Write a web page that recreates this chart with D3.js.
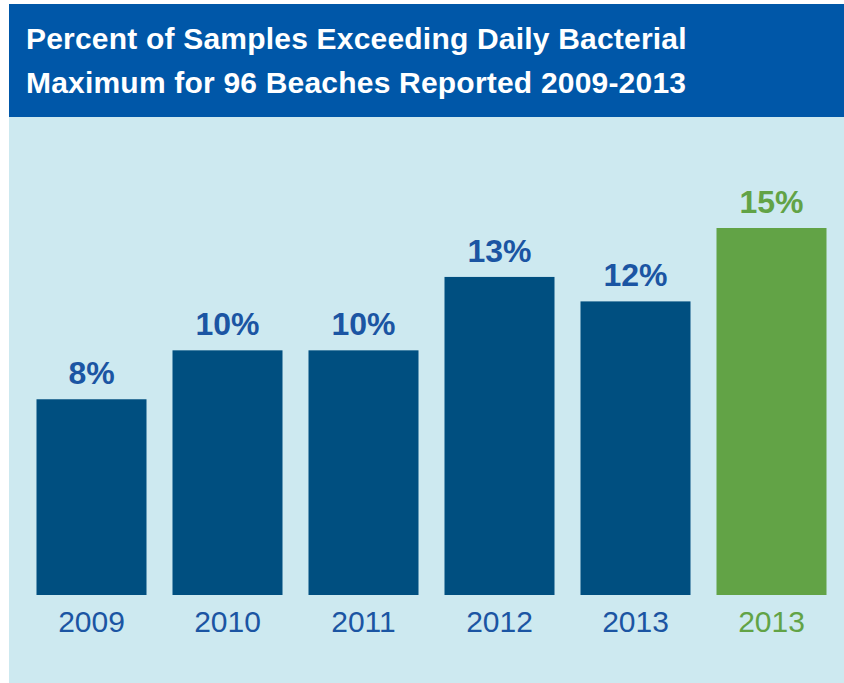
<!DOCTYPE html>
<html>
<head>
<meta charset="utf-8">
<script src="https://cdn.jsdelivr.net/npm/d3@7"></script>
<style>
  html, body { margin: 0; padding: 0; background: #ffffff; }
  svg { display: block; }
</style>
</head>
<body>
<svg id="chart" width="844" height="683"></svg>
<script>
const titleLines = ["Percent of Samples Exceeding Daily Bacterial", "Maximum for 96 Beaches Reported 2009-2013"];
const categories = ["2009", "2010", "2011", "2012", "2013", "2013 "];
const labels = ["2009", "2010", "2011", "2012", "2013", "2013"];
const values = [8, 10, 10, 13, 12, 15];
const highlight = [false, false, false, false, false, true];

const W = 844, H = 683;
const svg = d3.select("#chart");

const banner = { x: 9, y: 4, h: 113 };
const panelBottom = H;

svg.append("rect").attr("x", banner.x).attr("y", banner.y + banner.h)
  .attr("width", W - banner.x).attr("height", panelBottom - banner.y - banner.h)
  .attr("fill", "#cde9f0");
svg.append("rect").attr("x", banner.x).attr("y", banner.y)
  .attr("width", W - banner.x).attr("height", banner.h)
  .attr("fill", "#0057a8");

svg.append("g").selectAll("text").data(titleLines).join("text")
  .attr("x", 26).attr("y", (d, i) => 49 + i * 44)
  .attr("fill", "#ffffff")
  .attr("font-family", "Liberation Sans, Arial, Helvetica, sans-serif")
  .attr("font-weight", "bold").attr("font-size", 30)
  .attr("letter-spacing", 0.2)
  .text(d => d);

const baseline = 595;
const x = d3.scaleBand().domain(categories).range([36.5, 826.5]).paddingInner(26 / 136).paddingOuter(0);
const y = d3.scaleLinear().domain([0, 15]).range([baseline, 228]);

const blue = "#004f80", green = "#62a346", textBlue = "#1b55a3";

const g = svg.append("g");
g.selectAll("rect.bar").data(values).join("rect")
  .attr("class", "bar")
  .attr("x", (d, i) => x(categories[i]))
  .attr("width", x.bandwidth())
  .attr("y", d => y(d))
  .attr("height", d => y(0) - y(d))
  .attr("fill", (d, i) => highlight[i] ? green : blue);

g.selectAll("text.val").data(values).join("text")
  .attr("class", "val")
  .attr("x", (d, i) => x(categories[i]) + x.bandwidth() / 2)
  .attr("y", d => y(d) - 15)
  .attr("text-anchor", "middle")
  .attr("fill", (d, i) => highlight[i] ? green : textBlue)
  .attr("font-family", "Liberation Sans, Arial, Helvetica, sans-serif")
  .attr("font-weight", "bold").attr("font-size", 32)
  .text(d => d + "%");

const xAxis = d3.axisBottom(x).tickSize(0).tickPadding(0).tickFormat((d, i) => labels[i]);
const ax = svg.append("g").attr("transform", `translate(0,${baseline})`).call(xAxis);
ax.select(".domain").remove();
ax.selectAll(".tick text")
  .attr("dy", 0).attr("y", 37)
  .attr("fill", (d, i) => highlight[i] ? green : textBlue)
  .attr("font-family", "Liberation Sans, Arial, Helvetica, sans-serif")
  .attr("font-size", 30);
</script>
</body>
</html>
